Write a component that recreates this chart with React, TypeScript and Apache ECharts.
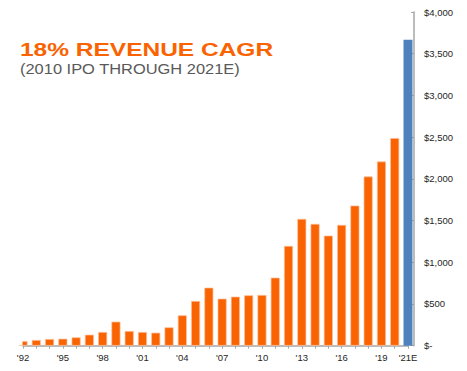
import React, { useEffect, useRef } from "react";
import * as echarts from "echarts";

const years = ["'92", "'93", "'94", "'95", "'96", "'97", "'98", "'99", "'00", "'01", "'02", "'03", "'04", "'05", "'06", "'07", "'08", "'09", "'10", "'11", "'12", "'13", "'14", "'15", "'16", "'17", "'18", "'19", "'20", "'21E"];
const revenue = [56, 68, 80, 84, 100, 132, 164, 288, 176, 164, 156, 220, 364, 536, 696, 564, 588, 604, 608, 816, 1196, 1520, 1460, 1320, 1448, 1680, 2028, 2208, 2489];
const estimate = [3668];
const yTicks = { min: 0, max: 4000, interval: 500 };
const title = "18% REVENUE CAGR";
const subtitle = "(2010 IPO THROUGH 2021E)";

const ORANGE = "#F96302";
const BLUE = "#4F81BD";
const AXIS = "#A6A6A6";
const LABEL = "#262626";
const FONT = "'Liberation Sans', Arial, sans-serif";

export default function App() {
  const ref = useRef<HTMLDivElement>(null);
  useEffect(() => {
    if (!ref.current) return;
    const chart = echarts.init(ref.current, undefined, { renderer: "svg" });
    const n = years.length;
    const orangeData = years.map((_, i) => (i < revenue.length ? revenue[i] : "-"));
    const blueData = years.map((_, i) => (i >= revenue.length ? estimate[i - revenue.length] : "-"));
    chart.setOption({
      animation: false,
      backgroundColor: "#ffffff",
      grid: { left: 23, right: 59, top: 12, bottom: 25.3, containLabel: false },
      xAxis: {
        type: "category",
        data: years,
        boundaryGap: false,
        axisLine: { show: true, lineStyle: { color: AXIS, width: 1.5 } },
        axisTick: { show: true, interval: 0, length: 3, lineStyle: { color: AXIS } },
        axisLabel: {
          interval: (i: number) => i % 3 === 0 || i === n - 1,
          color: LABEL,
          fontSize: 9.5,
          fontFamily: FONT,
          margin: 7,
        },
        splitLine: { show: false },
      },
      yAxis: {
        type: "value",
        position: "right",
        offset: 6,
        min: yTicks.min,
        max: yTicks.max,
        interval: yTicks.interval,
        axisLine: { show: true, lineStyle: { color: AXIS, width: 1.5 } },
        axisTick: { show: true, inside: true, length: 3, lineStyle: { color: AXIS } },
        splitLine: { show: false },
        axisLabel: {
          color: LABEL,
          fontSize: 9.5,
          fontFamily: FONT,
          margin: 10,
          formatter: (v: number) => (v === 0 ? "$-" : "$" + v.toLocaleString("en-US")),
        },
      },
      series: [
        {
          type: "bar",
          data: orangeData,
          barWidth: 9,
          barGap: "-100%",
          itemStyle: { color: ORANGE, borderColor: "#FCC09A", borderWidth: 0.7 },
        },
        {
          type: "bar",
          data: blueData,
          barWidth: 9,
          barGap: "-100%",
          itemStyle: { color: BLUE },
        },
      ],
      graphic: [
        {
          type: "rect",
          z: 100,
          shape: { x: 0, y: 250, width: 22.5, height: 95 },
          style: { fill: "#ffffff" },
          silent: true,
        },
        {
          type: "text",
          x: 20,
          y: 49.5,
          scaleX: 1.29,
          style: {
            text: title,
            fill: ORANGE,
            font: "bold 19px 'Liberation Sans', Arial, sans-serif",
            verticalAlign: "middle",
            align: "left",
          },
        },
        {
          type: "text",
          x: 20,
          y: 69,
          scaleX: 1.06,
          style: {
            text: subtitle,
            fill: "#595959",
            font: "15.5px 'Liberation Sans', Arial, sans-serif",
            verticalAlign: "middle",
            align: "left",
          },
        },
      ],
    });
    return () => chart.dispose();
  }, []);
  return (
    <div
      ref={ref}
      style={{ position: "fixed", left: 0, top: 0, width: 467, height: 371 }}
    />
  );
}
